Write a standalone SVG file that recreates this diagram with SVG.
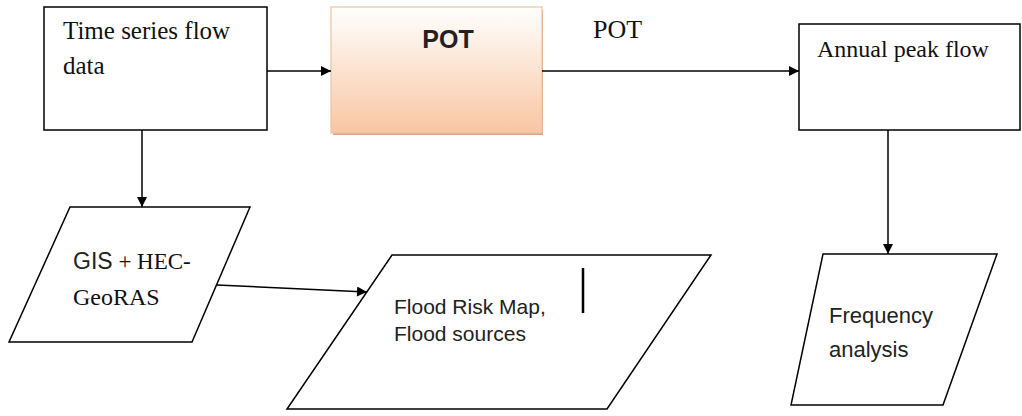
<svg xmlns="http://www.w3.org/2000/svg" width="1022" height="416" viewBox="0 0 1022 416">
  <defs>
    <linearGradient id="potGrad" x1="0" y1="0" x2="0" y2="1">
      <stop offset="0" stop-color="#ffffff"/>
      <stop offset="1" stop-color="#f8c6a2"/>
    </linearGradient>
    <marker id="arrow" viewBox="0 0 10 10" refX="10" refY="5" markerWidth="12" markerHeight="10" markerUnits="userSpaceOnUse" orient="auto">
      <path d="M0,0 L10,5 L0,10 Z" fill="#000"/>
    </marker>
    <style>
      .box { fill: #fff; stroke: #000; stroke-width: 1.5; }
      .conn { stroke: #000; stroke-width: 1.5; fill: none; marker-end: url(#arrow); }
      .serif { font-family: "Liberation Serif", "Times New Roman", serif; fill: #111; }
      .sans { font-family: "Liberation Sans", Arial, sans-serif; fill: #222; }
    </style>
  </defs>
  <rect width="1022" height="416" fill="#fff"/>

  <g id="node-timeseries">
    <rect class="box" x="44" y="7" width="223" height="123"/>
    <text class="serif" x="63" y="39" font-size="25">Time series flow</text>
    <text class="serif" x="63" y="74" font-size="25">data</text>
  </g>

  <g id="node-pot">
    <rect x="333" y="10" width="210" height="125" fill="#d9a585"/>
    <rect x="331" y="7" width="211" height="126" fill="url(#potGrad)" stroke="#efc2a0" stroke-width="1.2"/>
    <text class="sans" x="448" y="48" font-size="25" font-weight="bold" text-anchor="middle" fill="#111">POT</text>
  </g>

  <g id="node-annual">
    <rect class="box" x="799" y="24" width="221" height="106"/>
    <text class="serif" x="817" y="57" font-size="24">Annual peak flow</text>
  </g>

  <g id="node-gis">
    <polygon class="box" points="70,207 250,207 192,342 9,342"/>
    <text x="73" y="269" font-size="23"><tspan class="sans">GIS</tspan><tspan class="serif"> + HEC-</tspan></text>
    <text class="serif" x="73" y="305" font-size="24">GeoRAS</text>
  </g>

  <g id="node-flood">
    <polygon class="box" points="392,255 711,255 607,409 287,409"/>
    <text class="sans" x="394" y="314" font-size="21">Flood Risk Map,</text>
    <text class="sans" x="394" y="341" font-size="21">Flood sources</text>
    <line x1="583" y1="268" x2="583" y2="313" stroke="#000" stroke-width="2.5"/>
  </g>

  <g id="node-frequency">
    <polygon class="box" points="823,254 997,254 943,405 791,405"/>
    <text class="sans" x="829" y="323" font-size="22">Frequency</text>
    <text class="sans" x="829" y="357" font-size="22">analysis</text>
  </g>

  <g id="connectors">
    <line class="conn" x1="267" y1="71" x2="331" y2="71"/>
    <line class="conn" x1="542" y1="71" x2="799" y2="71"/>
    <line class="conn" x1="142" y1="130" x2="142" y2="207"/>
    <line class="conn" x1="888" y1="130" x2="888" y2="254"/>
    <line class="conn" x1="217" y1="285" x2="367" y2="292"/>
    <text class="serif" x="593" y="38" font-size="26">POT</text>
  </g>
</svg>
